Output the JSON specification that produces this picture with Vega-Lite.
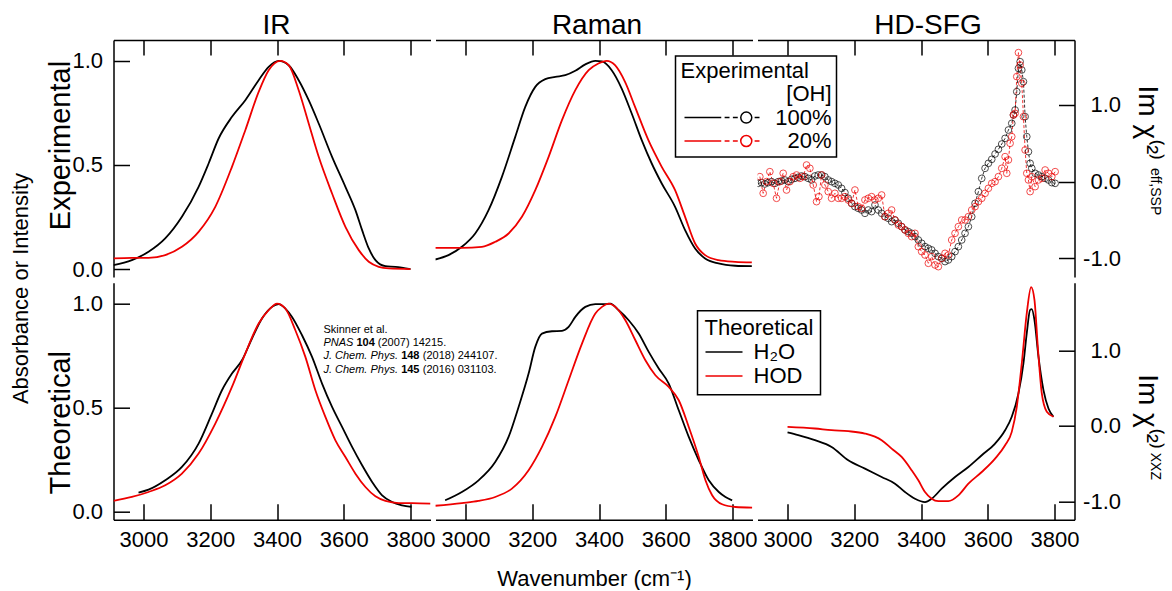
{
  "$schema": "https://vega.github.io/schema/vega-lite/v6.json",
  "padding": {"left": 9.5, "top": 11, "right": 12, "bottom": 0},
  "autosize": {"type": "pad"},
  "config": {
    "font": "Liberation Sans",
    "view": {"stroke": null},
    "axis": {"grid": false, "domainColor": "black", "domainWidth": 1.5, "tickColor": "black", "tickWidth": 1.5, "tickSize": -16, "labelColor": "black", "labelFontSize": 22, "labelFont": "Liberation Sans", "titleColor": "black", "titleFont": "Liberation Sans", "titleFontWeight": "normal", "labelFlush": false, "labelOverlap": false},
    "legend": {"strokeWidth": 1.5},
    "title": {"fontWeight": "normal", "color": "black", "font": "Liberation Sans", "subtitleColor": "black", "subtitleFont": "Liberation Sans"}
  },
  "title": {"text": "Absorbance or Intensity", "orient": "left", "anchor": "middle", "fontSize": 22, "offset": 13.5, "dx": 12},
  "datasets": {
    "ir_exp": [
      {"s":"100%","w":2910,"v":0.019},{"s":"100%","w":2965,"v":0.043},{"s":"100%","w":3015,"v":0.083},{"s":"100%","w":3065,"v":0.147},{"s":"100%","w":3115,"v":0.251},{"s":"100%","w":3165,"v":0.395},{"s":"100%","w":3195,"v":0.507},{"s":"100%","w":3225,"v":0.627},{"s":"100%","w":3265,"v":0.731},{"s":"100%","w":3305,"v":0.811},{"s":"100%","w":3345,"v":0.907},{"s":"100%","w":3375,"v":0.971},{"s":"100%","w":3405,"v":1.0},{"s":"100%","w":3435,"v":0.979},{"s":"100%","w":3465,"v":0.907},{"s":"100%","w":3495,"v":0.811},{"s":"100%","w":3525,"v":0.699},{"s":"100%","w":3565,"v":0.539},{"s":"100%","w":3605,"v":0.395},{"s":"100%","w":3635,"v":0.283},{"s":"100%","w":3655,"v":0.187},{"s":"100%","w":3675,"v":0.099},{"s":"100%","w":3695,"v":0.043},{"s":"100%","w":3725,"v":0.014},{"s":"100%","w":3755,"v":0.011},{"s":"100%","w":3800,"v":0.0},
      {"s":"20%","w":2910,"v":0.051},{"s":"20%","w":2965,"v":0.054},{"s":"20%","w":3015,"v":0.054},{"s":"20%","w":3065,"v":0.067},{"s":"20%","w":3115,"v":0.107},{"s":"20%","w":3165,"v":0.179},{"s":"20%","w":3215,"v":0.299},{"s":"20%","w":3265,"v":0.491},{"s":"20%","w":3305,"v":0.667},{"s":"20%","w":3345,"v":0.851},{"s":"20%","w":3375,"v":0.955},{"s":"20%","w":3410,"v":1.0},{"s":"20%","w":3435,"v":0.979},{"s":"20%","w":3465,"v":0.859},{"s":"20%","w":3495,"v":0.699},{"s":"20%","w":3525,"v":0.539},{"s":"20%","w":3565,"v":0.363},{"s":"20%","w":3605,"v":0.203},{"s":"20%","w":3645,"v":0.091},{"s":"20%","w":3675,"v":0.035},{"s":"20%","w":3705,"v":0.011},{"s":"20%","w":3735,"v":0.003},{"s":"20%","w":3800,"v":0.0}
    ],
    "raman_exp": [
      {"s":"100%","w":2909,"v":0.046},{"s":"100%","w":2949,"v":0.067},{"s":"100%","w":2989,"v":0.107},{"s":"100%","w":3029,"v":0.171},{"s":"100%","w":3069,"v":0.283},{"s":"100%","w":3109,"v":0.443},{"s":"100%","w":3149,"v":0.635},{"s":"100%","w":3179,"v":0.779},{"s":"100%","w":3209,"v":0.875},{"s":"100%","w":3239,"v":0.912},{"s":"100%","w":3269,"v":0.923},{"s":"100%","w":3299,"v":0.931},{"s":"100%","w":3329,"v":0.952},{"s":"100%","w":3359,"v":0.983},{"s":"100%","w":3389,"v":1.0},{"s":"100%","w":3409,"v":0.997},{"s":"100%","w":3438,"v":0.955},{"s":"100%","w":3468,"v":0.867},{"s":"100%","w":3498,"v":0.747},{"s":"100%","w":3528,"v":0.619},{"s":"100%","w":3558,"v":0.507},{"s":"100%","w":3588,"v":0.411},{"s":"100%","w":3628,"v":0.299},{"s":"100%","w":3658,"v":0.187},{"s":"100%","w":3688,"v":0.099},{"s":"100%","w":3718,"v":0.051},{"s":"100%","w":3758,"v":0.027},{"s":"100%","w":3808,"v":0.016},{"s":"100%","w":3858,"v":0.014},
      {"s":"20%","w":2909,"v":0.102},{"s":"20%","w":2989,"v":0.102},{"s":"20%","w":3049,"v":0.107},{"s":"20%","w":3089,"v":0.131},{"s":"20%","w":3129,"v":0.171},{"s":"20%","w":3169,"v":0.251},{"s":"20%","w":3209,"v":0.379},{"s":"20%","w":3249,"v":0.539},{"s":"20%","w":3289,"v":0.715},{"s":"20%","w":3329,"v":0.859},{"s":"20%","w":3369,"v":0.955},{"s":"20%","w":3398,"v":0.987},{"s":"20%","w":3423,"v":1.0},{"s":"20%","w":3448,"v":0.979},{"s":"20%","w":3478,"v":0.899},{"s":"20%","w":3508,"v":0.779},{"s":"20%","w":3548,"v":0.619},{"s":"20%","w":3588,"v":0.491},{"s":"20%","w":3628,"v":0.379},{"s":"20%","w":3658,"v":0.251},{"s":"20%","w":3688,"v":0.123},{"s":"20%","w":3718,"v":0.067},{"s":"20%","w":3758,"v":0.043},{"s":"20%","w":3808,"v":0.035},{"s":"20%","w":3858,"v":0.032}
    ],
    "sfg_exp": [
      {"s":"100%","w":2912,"v":-0.022},{"s":"100%","w":2922,"v":-0.013},{"s":"100%","w":2932,"v":-0.030},{"s":"100%","w":2942,"v":-0.013},{"s":"100%","w":2952,"v":0.0},{"s":"100%","w":2962,"v":-0.022},{"s":"100%","w":2972,"v":0.0},{"s":"100%","w":2982,"v":0.009},{"s":"100%","w":2992,"v":0.022},{"s":"100%","w":3002,"v":0.0},{"s":"100%","w":3012,"v":0.030},{"s":"100%","w":3022,"v":0.043},{"s":"100%","w":3032,"v":0.057},{"s":"100%","w":3042,"v":0.074},{"s":"100%","w":3052,"v":0.065},{"s":"100%","w":3062,"v":0.043},{"s":"100%","w":3072,"v":0.022},{"s":"100%","w":3082,"v":0.074},{"s":"100%","w":3092,"v":0.087},{"s":"100%","w":3102,"v":0.087},{"s":"100%","w":3112,"v":0.065},{"s":"100%","w":3122,"v":0.022},{"s":"100%","w":3132,"v":0.0},{"s":"100%","w":3142,"v":-0.022},{"s":"100%","w":3152,"v":-0.043},{"s":"100%","w":3162,"v":-0.087},{"s":"100%","w":3172,"v":-0.143},{"s":"100%","w":3182,"v":-0.217},{"s":"100%","w":3192,"v":-0.283},{"s":"100%","w":3202,"v":-0.326},{"s":"100%","w":3212,"v":-0.348},{"s":"100%","w":3222,"v":-0.370},{"s":"100%","w":3232,"v":-0.413},{"s":"100%","w":3242,"v":-0.370},{"s":"100%","w":3252,"v":-0.391},{"s":"100%","w":3262,"v":-0.304},{"s":"100%","w":3272,"v":-0.370},{"s":"100%","w":3282,"v":-0.413},{"s":"100%","w":3292,"v":-0.457},{"s":"100%","w":3302,"v":-0.478},{"s":"100%","w":3312,"v":-0.522},{"s":"100%","w":3322,"v":-0.500},{"s":"100%","w":3332,"v":-0.543},{"s":"100%","w":3342,"v":-0.587},{"s":"100%","w":3352,"v":-0.630},{"s":"100%","w":3362,"v":-0.652},{"s":"100%","w":3372,"v":-0.674},{"s":"100%","w":3382,"v":-0.717},{"s":"100%","w":3392,"v":-0.761},{"s":"100%","w":3402,"v":-0.804},{"s":"100%","w":3412,"v":-0.848},{"s":"100%","w":3422,"v":-0.870},{"s":"100%","w":3432,"v":-0.891},{"s":"100%","w":3442,"v":-0.935},{"s":"100%","w":3452,"v":-0.978},{"s":"100%","w":3462,"v":-1.0},{"s":"100%","w":3472,"v":-1.043},{"s":"100%","w":3482,"v":-1.022},{"s":"100%","w":3492,"v":-0.978},{"s":"100%","w":3502,"v":-0.913},{"s":"100%","w":3512,"v":-0.848},{"s":"100%","w":3522,"v":-0.761},{"s":"100%","w":3532,"v":-0.674},{"s":"100%","w":3542,"v":-0.587},{"s":"100%","w":3552,"v":-0.457},{"s":"100%","w":3562,"v":-0.283},{"s":"100%","w":3572,"v":-0.130},{"s":"100%","w":3582,"v":0.043},{"s":"100%","w":3592,"v":0.174},{"s":"100%","w":3602,"v":0.239},{"s":"100%","w":3612,"v":0.291},{"s":"100%","w":3622,"v":0.361},{"s":"100%","w":3632,"v":0.422},{"s":"100%","w":3642,"v":0.491},{"s":"100%","w":3652,"v":0.565},{"s":"100%","w":3662,"v":0.674},{"s":"100%","w":3672,"v":0.761},{"s":"100%","w":3677,"v":0.870},{"s":"100%","w":3682,"v":0.935},{"s":"100%","w":3687,"v":1.174},{"s":"100%","w":3692,"v":1.478},{"s":"100%","w":3697,"v":1.565},{"s":"100%","w":3702,"v":1.457},{"s":"100%","w":3707,"v":1.304},{"s":"100%","w":3712,"v":0.848},{"s":"100%","w":3717,"v":0.587},{"s":"100%","w":3722,"v":0.391},{"s":"100%","w":3727,"v":0.239},{"s":"100%","w":3732,"v":0.174},{"s":"100%","w":3742,"v":0.109},{"s":"100%","w":3752,"v":0.087},{"s":"100%","w":3762,"v":0.065},{"s":"100%","w":3772,"v":0.043},{"s":"100%","w":3782,"v":0.022},{"s":"100%","w":3792,"v":-0.013},{"s":"100%","w":3802,"v":-0.022},
      {"s":"20%","w":2917,"v":0.065},{"s":"20%","w":2927,"v":-0.152},{"s":"20%","w":2937,"v":0.0},{"s":"20%","w":2947,"v":0.130},{"s":"20%","w":2957,"v":-0.022},{"s":"20%","w":2967,"v":-0.217},{"s":"20%","w":2977,"v":0.0},{"s":"20%","w":2987,"v":0.109},{"s":"20%","w":2997,"v":-0.109},{"s":"20%","w":3007,"v":0.0},{"s":"20%","w":3017,"v":0.065},{"s":"20%","w":3027,"v":0.087},{"s":"20%","w":3037,"v":0.043},{"s":"20%","w":3047,"v":0.065},{"s":"20%","w":3057,"v":0.217},{"s":"20%","w":3067,"v":0.174},{"s":"20%","w":3077,"v":-0.043},{"s":"20%","w":3087,"v":-0.261},{"s":"20%","w":3094,"v":-0.196},{"s":"20%","w":3102,"v":0.087},{"s":"20%","w":3112,"v":-0.043},{"s":"20%","w":3122,"v":-0.130},{"s":"20%","w":3132,"v":-0.217},{"s":"20%","w":3142,"v":-0.152},{"s":"20%","w":3152,"v":-0.217},{"s":"20%","w":3162,"v":-0.217},{"s":"20%","w":3172,"v":-0.196},{"s":"20%","w":3182,"v":-0.239},{"s":"20%","w":3192,"v":-0.283},{"s":"20%","w":3202,"v":-0.109},{"s":"20%","w":3212,"v":-0.326},{"s":"20%","w":3222,"v":-0.348},{"s":"20%","w":3232,"v":-0.239},{"s":"20%","w":3242,"v":-0.217},{"s":"20%","w":3252,"v":-0.196},{"s":"20%","w":3262,"v":-0.239},{"s":"20%","w":3272,"v":-0.217},{"s":"20%","w":3282,"v":-0.174},{"s":"20%","w":3292,"v":-0.457},{"s":"20%","w":3302,"v":-0.413},{"s":"20%","w":3312,"v":-0.370},{"s":"20%","w":3322,"v":-0.500},{"s":"20%","w":3332,"v":-0.565},{"s":"20%","w":3342,"v":-0.587},{"s":"20%","w":3352,"v":-0.630},{"s":"20%","w":3362,"v":-0.674},{"s":"20%","w":3372,"v":-0.717},{"s":"20%","w":3382,"v":-0.674},{"s":"20%","w":3392,"v":-0.848},{"s":"20%","w":3402,"v":-0.913},{"s":"20%","w":3412,"v":-0.957},{"s":"20%","w":3422,"v":-1.065},{"s":"20%","w":3432,"v":-0.978},{"s":"20%","w":3442,"v":-1.087},{"s":"20%","w":3452,"v":-1.109},{"s":"20%","w":3462,"v":-1.0},{"s":"20%","w":3472,"v":-0.935},{"s":"20%","w":3482,"v":-0.957},{"s":"20%","w":3492,"v":-0.761},{"s":"20%","w":3502,"v":-0.674},{"s":"20%","w":3512,"v":-0.587},{"s":"20%","w":3522,"v":-0.500},{"s":"20%","w":3532,"v":-0.500},{"s":"20%","w":3542,"v":-0.457},{"s":"20%","w":3552,"v":-0.370},{"s":"20%","w":3562,"v":-0.326},{"s":"20%","w":3572,"v":-0.261},{"s":"20%","w":3582,"v":-0.217},{"s":"20%","w":3592,"v":-0.152},{"s":"20%","w":3602,"v":-0.087},{"s":"20%","w":3612,"v":-0.022},{"s":"20%","w":3622,"v":0.0},{"s":"20%","w":3632,"v":0.065},{"s":"20%","w":3642,"v":0.174},{"s":"20%","w":3652,"v":0.326},{"s":"20%","w":3657,"v":0.109},{"s":"20%","w":3662,"v":0.283},{"s":"20%","w":3667,"v":0.500},{"s":"20%","w":3672,"v":0.587},{"s":"20%","w":3677,"v":0.870},{"s":"20%","w":3682,"v":0.891},{"s":"20%","w":3687,"v":1.370},{"s":"20%","w":3692,"v":1.683},{"s":"20%","w":3697,"v":1.522},{"s":"20%","w":3702,"v":1.283},{"s":"20%","w":3707,"v":0.848},{"s":"20%","w":3712,"v":0.413},{"s":"20%","w":3717,"v":0.109},{"s":"20%","w":3722,"v":0.022},{"s":"20%","w":3727,"v":-0.130},{"s":"20%","w":3732,"v":0.065},{"s":"20%","w":3742,"v":-0.065},{"s":"20%","w":3752,"v":0.022},{"s":"20%","w":3762,"v":0.043},{"s":"20%","w":3772,"v":0.152},{"s":"20%","w":3782,"v":0.109},{"s":"20%","w":3792,"v":0.065},{"s":"20%","w":3802,"v":0.130}
    ],
    "ir_th": [
      {"s":"H₂O","w":2985,"v":0.093},{"s":"H₂O","w":3015,"v":0.107},{"s":"H₂O","w":3065,"v":0.152},{"s":"H₂O","w":3115,"v":0.216},{"s":"H₂O","w":3165,"v":0.328},{"s":"H₂O","w":3205,"v":0.472},{"s":"H₂O","w":3235,"v":0.584},{"s":"H₂O","w":3265,"v":0.664},{"s":"H₂O","w":3295,"v":0.728},{"s":"H₂O","w":3325,"v":0.832},{"s":"H₂O","w":3355,"v":0.928},{"s":"H₂O","w":3385,"v":0.984},{"s":"H₂O","w":3405,"v":0.997},{"s":"H₂O","w":3425,"v":0.976},{"s":"H₂O","w":3445,"v":0.936},{"s":"H₂O","w":3475,"v":0.848},{"s":"H₂O","w":3505,"v":0.744},{"s":"H₂O","w":3535,"v":0.616},{"s":"H₂O","w":3565,"v":0.504},{"s":"H₂O","w":3595,"v":0.408},{"s":"H₂O","w":3625,"v":0.312},{"s":"H₂O","w":3655,"v":0.224},{"s":"H₂O","w":3685,"v":0.144},{"s":"H₂O","w":3715,"v":0.08},{"s":"H₂O","w":3745,"v":0.048},{"s":"H₂O","w":3775,"v":0.032},{"s":"H₂O","w":3803,"v":0.024},
      {"s":"HOD","w":2910,"v":0.053},{"s":"HOD","w":2965,"v":0.072},{"s":"HOD","w":3015,"v":0.096},{"s":"HOD","w":3065,"v":0.128},{"s":"HOD","w":3115,"v":0.184},{"s":"HOD","w":3165,"v":0.28},{"s":"HOD","w":3215,"v":0.424},{"s":"HOD","w":3265,"v":0.6},{"s":"HOD","w":3305,"v":0.76},{"s":"HOD","w":3345,"v":0.904},{"s":"HOD","w":3375,"v":0.968},{"s":"HOD","w":3400,"v":1.0},{"s":"HOD","w":3425,"v":0.976},{"s":"HOD","w":3455,"v":0.872},{"s":"HOD","w":3485,"v":0.744},{"s":"HOD","w":3515,"v":0.584},{"s":"HOD","w":3545,"v":0.456},{"s":"HOD","w":3575,"v":0.344},{"s":"HOD","w":3605,"v":0.264},{"s":"HOD","w":3635,"v":0.184},{"s":"HOD","w":3665,"v":0.12},{"s":"HOD","w":3695,"v":0.075},{"s":"HOD","w":3725,"v":0.053},{"s":"HOD","w":3765,"v":0.043},{"s":"HOD","w":3805,"v":0.043},{"s":"HOD","w":3860,"v":0.04}
    ],
    "raman_th": [
      {"s":"H₂O","w":2939,"v":0.056},{"s":"H₂O","w":2989,"v":0.096},{"s":"H₂O","w":3039,"v":0.152},{"s":"H₂O","w":3089,"v":0.24},{"s":"H₂O","w":3129,"v":0.36},{"s":"H₂O","w":3159,"v":0.504},{"s":"H₂O","w":3189,"v":0.664},{"s":"H₂O","w":3209,"v":0.792},{"s":"H₂O","w":3229,"v":0.856},{"s":"H₂O","w":3259,"v":0.867},{"s":"H₂O","w":3289,"v":0.869},{"s":"H₂O","w":3309,"v":0.888},{"s":"H₂O","w":3329,"v":0.936},{"s":"H₂O","w":3359,"v":0.984},{"s":"H₂O","w":3389,"v":0.997},{"s":"H₂O","w":3419,"v":0.997},{"s":"H₂O","w":3434,"v":1.0},{"s":"H₂O","w":3459,"v":0.968},{"s":"H₂O","w":3489,"v":0.92},{"s":"H₂O","w":3519,"v":0.856},{"s":"H₂O","w":3549,"v":0.768},{"s":"H₂O","w":3579,"v":0.688},{"s":"H₂O","w":3609,"v":0.616},{"s":"H₂O","w":3639,"v":0.488},{"s":"H₂O","w":3669,"v":0.36},{"s":"H₂O","w":3699,"v":0.248},{"s":"H₂O","w":3729,"v":0.152},{"s":"H₂O","w":3759,"v":0.096},{"s":"H₂O","w":3779,"v":0.072},{"s":"H₂O","w":3799,"v":0.056},
      {"s":"HOD","w":2909,"v":0.03},{"s":"HOD","w":2989,"v":0.043},{"s":"HOD","w":3039,"v":0.053},{"s":"HOD","w":3089,"v":0.072},{"s":"HOD","w":3139,"v":0.112},{"s":"HOD","w":3189,"v":0.2},{"s":"HOD","w":3229,"v":0.312},{"s":"HOD","w":3269,"v":0.456},{"s":"HOD","w":3309,"v":0.632},{"s":"HOD","w":3349,"v":0.808},{"s":"HOD","w":3389,"v":0.952},{"s":"HOD","w":3409,"v":0.984},{"s":"HOD","w":3429,"v":1.0},{"s":"HOD","w":3449,"v":0.984},{"s":"HOD","w":3479,"v":0.92},{"s":"HOD","w":3509,"v":0.824},{"s":"HOD","w":3539,"v":0.728},{"s":"HOD","w":3569,"v":0.656},{"s":"HOD","w":3609,"v":0.6},{"s":"HOD","w":3639,"v":0.536},{"s":"HOD","w":3669,"v":0.408},{"s":"HOD","w":3699,"v":0.264},{"s":"HOD","w":3719,"v":0.152},{"s":"HOD","w":3739,"v":0.08},{"s":"HOD","w":3769,"v":0.037},{"s":"HOD","w":3809,"v":0.024},{"s":"HOD","w":3859,"v":0.021}
    ],
    "sfg_th": [
      {"s":"H₂O","w":3000,"v":-0.088},{"s":"H₂O","w":3032,"v":-0.124},{"s":"H₂O","w":3082,"v":-0.19},{"s":"H₂O","w":3132,"v":-0.279},{"s":"H₂O","w":3182,"v":-0.456},{"s":"H₂O","w":3232,"v":-0.566},{"s":"H₂O","w":3282,"v":-0.677},{"s":"H₂O","w":3322,"v":-0.765},{"s":"H₂O","w":3352,"v":-0.876},{"s":"H₂O","w":3382,"v":-0.965},{"s":"H₂O","w":3412,"v":-1.009},{"s":"H₂O","w":3432,"v":-0.965},{"s":"H₂O","w":3462,"v":-0.832},{"s":"H₂O","w":3502,"v":-0.677},{"s":"H₂O","w":3542,"v":-0.544},{"s":"H₂O","w":3582,"v":-0.389},{"s":"H₂O","w":3622,"v":-0.235},{"s":"H₂O","w":3652,"v":-0.058},{"s":"H₂O","w":3672,"v":0.12},{"s":"H₂O","w":3692,"v":0.429},{"s":"H₂O","w":3707,"v":0.827},{"s":"H₂O","w":3717,"v":1.226},{"s":"H₂O","w":3727,"v":1.535},{"s":"H₂O","w":3732,"v":1.544},{"s":"H₂O","w":3740,"v":1.4},{"s":"H₂O","w":3752,"v":0.916},{"s":"H₂O","w":3767,"v":0.473},{"s":"H₂O","w":3782,"v":0.23},{"s":"H₂O","w":3797,"v":0.12},
      {"s":"HOD","w":3000,"v":-0.013},{"s":"HOD","w":3082,"v":-0.035},{"s":"HOD","w":3132,"v":-0.058},{"s":"HOD","w":3182,"v":-0.071},{"s":"HOD","w":3232,"v":-0.102},{"s":"HOD","w":3282,"v":-0.19},{"s":"HOD","w":3312,"v":-0.301},{"s":"HOD","w":3342,"v":-0.412},{"s":"HOD","w":3372,"v":-0.588},{"s":"HOD","w":3392,"v":-0.721},{"s":"HOD","w":3412,"v":-0.876},{"s":"HOD","w":3432,"v":-0.965},{"s":"HOD","w":3452,"v":-0.996},{"s":"HOD","w":3482,"v":-0.996},{"s":"HOD","w":3512,"v":-0.92},{"s":"HOD","w":3542,"v":-0.765},{"s":"HOD","w":3582,"v":-0.611},{"s":"HOD","w":3622,"v":-0.434},{"s":"HOD","w":3652,"v":-0.257},{"s":"HOD","w":3672,"v":-0.08},{"s":"HOD","w":3687,"v":0.252},{"s":"HOD","w":3702,"v":0.827},{"s":"HOD","w":3717,"v":1.491},{"s":"HOD","w":3730,"v":1.836},{"s":"HOD","w":3740,"v":1.668},{"s":"HOD","w":3750,"v":1.049},{"s":"HOD","w":3762,"v":0.429},{"s":"HOD","w":3777,"v":0.186},{"s":"HOD","w":3797,"v":0.12}
    ],
    "refs": [
      {"k":"plain","t":"Skinner et al.","w":3539,"v":0.861},
      {"k":"italic","t":"PNAS","w":3539,"v":0.797},
      {"k":"bold","t":"104","w":3638,"v":0.797},
      {"k":"plain","t":"(2007) 14215.","w":3702,"v":0.797},
      {"k":"italic","t":"J. Chem. Phys.","w":3539,"v":0.733},
      {"k":"bold","t":"148","w":3772,"v":0.733},
      {"k":"plain","t":"(2018) 244107.","w":3837,"v":0.733},
      {"k":"italic","t":"J. Chem. Phys.","w":3539,"v":0.669},
      {"k":"bold","t":"145","w":3772,"v":0.669},
      {"k":"plain","t":"(2016) 031103.","w":3837,"v":0.669}
    ]
  },
  "spacing": 1.7,
  "resolve": {"scale": {"color": "independent"}, "legend": {"color": "independent"}},
  "vconcat": [
    {
      "spacing": 5,
      "bounds": "flush",
      "resolve": {"scale": {"color": "independent"}, "legend": {"color": "independent"}},
      "hconcat": [
        {
          "width": 317, "height": 237,
          "layer": [
            {
              "data": {"name": "ir_exp"},
              "mark": {"type": "line", "strokeWidth": 1.8, "interpolate": "monotone", "clip": true},
              "encoding": {
                "x": {"field": "w", "type": "quantitative", "scale": {"domain": [2910, 3860], "nice": false, "zero": false},
                      "axis": {"orient": "top", "values": [3000, 3200, 3400, 3600, 3800], "labels": false, "tickSize": -15, "title": "IR", "titleFontSize": 28, "titleX": 162.5, "titleY": -6.7, "titleBaseline": "alphabetic", "titleAlign": "center"}},
                "y": {"field": "v", "type": "quantitative", "scale": {"domain": [-0.038, 1.1], "nice": false, "zero": false},
                      "axis": {"orient": "left", "values": [0, 0.5, 1], "format": ".1f", "labelPadding": 27, "title": "Experimental", "titleFontSize": 29, "titleAngle": -90, "titleX": -44, "titleY": 105, "titleBaseline": "alphabetic", "titleAlign": "center"}},
                "color": {"field": "s", "type": "nominal", "scale": {"domain": ["100%", "20%"], "range": ["black", "#ee0000"]}, "legend": null}
              }
            },
            {"mark": {"type": "rule", "color": "black", "strokeWidth": 1.5}, "encoding": {"y": {"datum": 0, "type": "quantitative"}}}
          ]
        },
        {
          "width": 317, "height": 237,
          "layer": [
            {
              "data": {"name": "raman_exp"},
              "mark": {"type": "line", "strokeWidth": 1.8, "interpolate": "monotone", "clip": true},
              "encoding": {
                "x": {"field": "w", "type": "quantitative", "scale": {"domain": [2910, 3860], "nice": false, "zero": false},
                      "axis": {"orient": "top", "values": [3000, 3200, 3400, 3600, 3800], "labels": false, "tickSize": -15, "title": "Raman", "titleFontSize": 28, "titleX": 161, "titleY": -6.7, "titleBaseline": "alphabetic", "titleAlign": "center"}},
                "y": {"field": "v", "type": "quantitative", "scale": {"domain": [-0.038, 1.1], "nice": false, "zero": false}, "axis": null},
                "color": {"field": "s", "type": "nominal", "scale": {"domain": ["[OH]", "100%", "20%"], "range": ["transparent", "black", "#ee0000"]},
                  "legend": {
                    "orient": "none", "legendX": 240, "legendY": 16,
                    "title": "Experimental",
                    "titleFontSize": 22, "titleFontWeight": "normal", "titleColor": "black", "titleFont": "Liberation Sans", "titlePadding": 0.2,
                    "labelFontSize": 22, "labelColor": "black", "labelFont": "Liberation Sans", "labelAlign": "right", "labelOffset": 71,
                    "symbolType": "M-1,0L-0.02,0M0.07,0L0.2,0M0.29,0L0.42,0M0.5,0A0.147,0.147,0,1,1,0.794,0A0.147,0.147,0,1,1,0.5,0M0.87,0L1,0",
                    "symbolSize": 5625, "symbolStrokeWidth": 1.5, "symbolFillColor": "transparent", "symbolOffset": 3,
                    "clipHeight": 22, "rowPadding": 1.4,
                    "padding": 5, "strokeColor": "black", "fillColor": "white"
                  }}
              }
            },
            {"mark": {"type": "rule", "color": "black", "strokeWidth": 1.5}, "encoding": {"y": {"datum": 0, "type": "quantitative", "axis": null}}}
          ]
        },
        {
          "width": 317, "height": 237,
          "title": {"text": "eff,SSP", "orient": "right", "anchor": "start", "frame": "group", "fontSize": 14, "dx": 128, "offset": -13},
          "layer": [
            {
              "data": {"name": "sfg_exp"},
              "mark": {"type": "line", "strokeWidth": 0.8, "strokeDash": [3, 2], "clip": true},
              "encoding": {
                "x": {"field": "w", "type": "quantitative", "scale": {"domain": [2910, 3860], "nice": false, "zero": false},
                      "axis": {"orient": "top", "values": [3000, 3200, 3400, 3600, 3800], "labels": false, "tickSize": -15, "title": "HD-SFG", "titleFontSize": 28, "titleX": 170, "titleY": -6.7, "titleBaseline": "alphabetic", "titleAlign": "center"}},
                "y": {"field": "v", "type": "quantitative", "scale": {"domain": [-1.244, 1.848], "nice": false, "zero": false},
                      "axis": {"orient": "right", "values": [-1, 0, 1], "labelExpr": "datum.value < 0 ? '-' + format(-datum.value, '.1f') : format(datum.value, '.1f')", "labelAlign": "right", "labelPadding": 62, "title": "Im χ⁽²⁾", "titleFontSize": 28, "titleAngle": 90, "titleX": 64, "titleY": 45, "titleBaseline": "alphabetic", "titleAlign": "left"}},
                "color": {"field": "s", "type": "nominal", "scale": {"domain": ["100%", "20%"], "range": ["black", "#ee0000"]}, "legend": null}
              }
            },
            {
              "data": {"name": "sfg_exp"},
              "mark": {"type": "point", "shape": "circle", "filled": false, "size": 45, "strokeWidth": 1, "clip": true},
              "encoding": {
                "x": {"field": "w", "type": "quantitative"},
                "y": {"field": "v", "type": "quantitative"},
                "color": {"field": "s", "type": "nominal", "legend": null}
              }
            },
            {"mark": {"type": "rule", "color": "black", "strokeWidth": 1.5}, "encoding": {"y": {"datum": 0, "type": "quantitative"}}}
          ]
        }
      ]
    },
    {
      "spacing": 5,
      "bounds": "flush",
      "resolve": {"scale": {"color": "independent"}, "legend": {"color": "independent"}},
      "hconcat": [
        {
          "width": 317, "height": 237,
          "layer": [
            {
              "data": {"name": "ir_th"},
              "mark": {"type": "line", "strokeWidth": 1.8, "interpolate": "monotone", "clip": true},
              "encoding": {
                "x": {"field": "w", "type": "quantitative", "scale": {"domain": [2910, 3860], "nice": false, "zero": false},
                      "axis": {"orient": "bottom", "values": [3000, 3200, 3400, 3600, 3800], "format": "d", "labelPadding": 26, "title": null}},
                "y": {"field": "v", "type": "quantitative", "scale": {"domain": [-0.037, 1.1], "nice": false, "zero": false},
                      "axis": {"orient": "left", "values": [0, 0.5, 1], "format": ".1f", "labelPadding": 27, "title": "Theoretical", "titleFontSize": 29, "titleAngle": -90, "titleX": -44, "titleY": 139.5, "titleBaseline": "alphabetic", "titleAlign": "center"}},
                "color": {"field": "s", "type": "nominal", "scale": {"domain": ["H₂O", "HOD"], "range": ["black", "#ee0000"]}, "legend": null}
              }
            },
            {"mark": {"type": "rule", "color": "black", "strokeWidth": 1.5}, "encoding": {"y": {"datum": 0, "type": "quantitative"}}},
            {
              "data": {"name": "refs"},
              "transform": [{"filter": "datum.k == 'plain'"}],
              "mark": {"type": "text", "align": "left", "baseline": "alphabetic", "fontSize": 11, "color": "black"},
              "encoding": {"x": {"field": "w", "type": "quantitative"}, "y": {"field": "v", "type": "quantitative"}, "text": {"field": "t"}}
            },
            {
              "data": {"name": "refs"},
              "transform": [{"filter": "datum.k == 'italic'"}],
              "mark": {"type": "text", "align": "left", "baseline": "alphabetic", "fontSize": 11, "fontStyle": "italic", "color": "black"},
              "encoding": {"x": {"field": "w", "type": "quantitative"}, "y": {"field": "v", "type": "quantitative"}, "text": {"field": "t"}}
            },
            {
              "data": {"name": "refs"},
              "transform": [{"filter": "datum.k == 'bold'"}],
              "mark": {"type": "text", "align": "left", "baseline": "alphabetic", "fontSize": 11, "fontWeight": "bold", "color": "black"},
              "encoding": {"x": {"field": "w", "type": "quantitative"}, "y": {"field": "v", "type": "quantitative"}, "text": {"field": "t"}}
            }
          ]
        },
        {
          "width": 317, "height": 237,
          "layer": [
            {
              "data": {"name": "raman_th"},
              "mark": {"type": "line", "strokeWidth": 1.8, "interpolate": "monotone", "clip": true},
              "encoding": {
                "x": {"field": "w", "type": "quantitative", "scale": {"domain": [2910, 3860], "nice": false, "zero": false},
                      "axis": {"orient": "bottom", "values": [3000, 3200, 3400, 3600, 3800], "format": "d", "labelPadding": 26, "title": "Wavenumber (cm⁻¹)", "titleFontSize": 22, "titleY": 66, "titleBaseline": "alphabetic"}},
                "y": {"field": "v", "type": "quantitative", "scale": {"domain": [-0.037, 1.1], "nice": false, "zero": false}, "axis": null},
                "color": {"field": "s", "type": "nominal", "scale": {"domain": ["H₂O", "HOD"], "range": ["black", "#ee0000"]},
                  "legend": {
                    "orient": "none", "legendX": 262, "legendY": 28,
                    "title": "Theoretical",
                    "titleFontSize": 22, "titleFontWeight": "normal", "titleColor": "black", "titleFont": "Liberation Sans", "titlePadding": 1.3,
                    "labelFontSize": 22, "labelColor": "black", "labelFont": "Liberation Sans", "labelOffset": 10,
                    "symbolType": "stroke", "symbolSize": 1369, "symbolStrokeWidth": 1.5,
                    "clipHeight": 22, "rowPadding": 2,
                    "padding": 7, "strokeColor": "black", "fillColor": "white"
                  }}
              }
            },
            {"mark": {"type": "rule", "color": "black", "strokeWidth": 1.5}, "encoding": {"y": {"datum": 0, "type": "quantitative", "axis": null}}}
          ]
        },
        {
          "width": 317, "height": 237,
          "title": {"text": "XXZ", "orient": "right", "anchor": "start", "frame": "group", "fontSize": 14, "dx": 170, "offset": -13},
          "layer": [
            {
              "data": {"name": "sfg_th"},
              "mark": {"type": "line", "strokeWidth": 1.8, "interpolate": "monotone", "clip": true},
              "encoding": {
                "x": {"field": "w", "type": "quantitative", "scale": {"domain": [2910, 3860], "nice": false, "zero": false},
                      "axis": {"orient": "bottom", "values": [3000, 3200, 3400, 3600, 3800], "format": "d", "labelPadding": 26, "title": null}},
                "y": {"field": "v", "type": "quantitative", "scale": {"domain": [-1.242, 1.894], "nice": false, "zero": false},
                      "axis": {"orient": "right", "values": [-1, 0, 1], "labelExpr": "datum.value < 0 ? '-' + format(-datum.value, '.1f') : format(datum.value, '.1f')", "labelAlign": "right", "labelPadding": 62, "title": "Im χ⁽²⁾", "titleFontSize": 28, "titleAngle": 90, "titleX": 64, "titleY": 91, "titleBaseline": "alphabetic", "titleAlign": "left"}},
                "color": {"field": "s", "type": "nominal", "scale": {"domain": ["H₂O", "HOD"], "range": ["black", "#ee0000"]}, "legend": null}
              }
            },
            {"mark": {"type": "rule", "color": "black", "strokeWidth": 1.5}, "encoding": {"y": {"datum": 0, "type": "quantitative"}}}
          ]
        }
      ]
    }
  ]
}
